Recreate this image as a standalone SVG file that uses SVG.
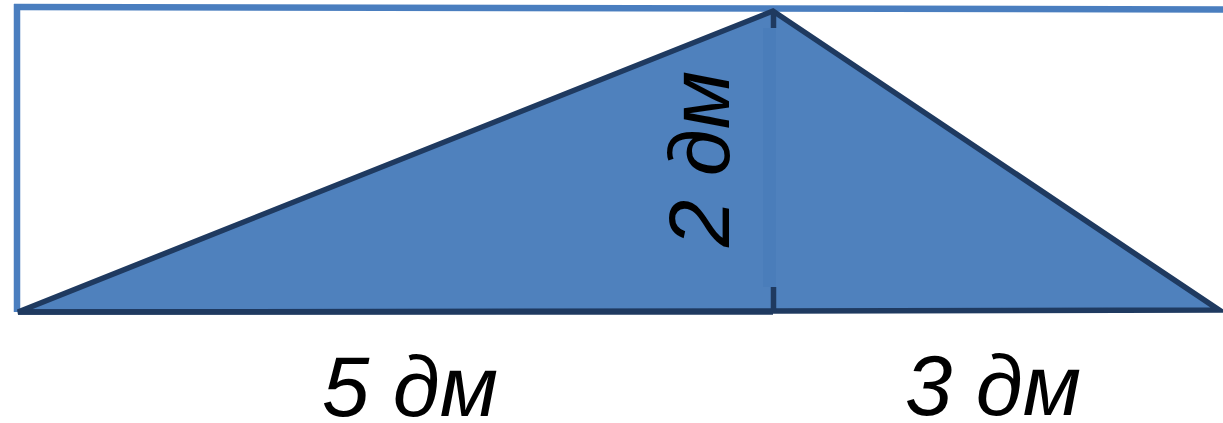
<svg xmlns="http://www.w3.org/2000/svg" width="1223" height="423" viewBox="0 0 1223 423">
  <style>
    .frame { fill: none; stroke: #4A7EBF; stroke-width: 6.5; }
    .tri { fill: #4F81BD; stroke: #1F3A60; stroke-width: 5.5; stroke-linejoin: miter; }
    .tick { stroke: #1F3A60; stroke-width: 5.5; }
    .lbl { font-family: "Liberation Sans", Arial, sans-serif; font-style: italic; font-size: 85px; fill: #000; }
  </style>
  <g id="frame">
    <line class="frame" x1="14" y1="7" x2="1223" y2="9.5"/>
    <line class="frame" x1="17" y1="4" x2="17" y2="312"/>
  </g>
  <g id="triangle">
    <polygon class="tri" points="18,312 773,11 1219,310 773,311"/>
    <line class="tri" x1="18" y1="312" x2="773" y2="312"/>
  </g>
  <g id="height">
    <rect x="763" y="28" width="13" height="259" fill="#4A7DBA"/>
    <line class="tick" x1="773.5" y1="11" x2="773.5" y2="28"/>
    <line class="tick" x1="773.5" y1="287" x2="773.5" y2="312"/>
  </g>
  <g id="labels">
    <text class="lbl" x="410" y="416" text-anchor="middle">5 дм</text>
    <text class="lbl" x="993" y="415" text-anchor="middle">3 дм</text>
    <text class="lbl" transform="translate(729,159) rotate(-90)" text-anchor="middle">2 дм</text>
  </g>
</svg>
